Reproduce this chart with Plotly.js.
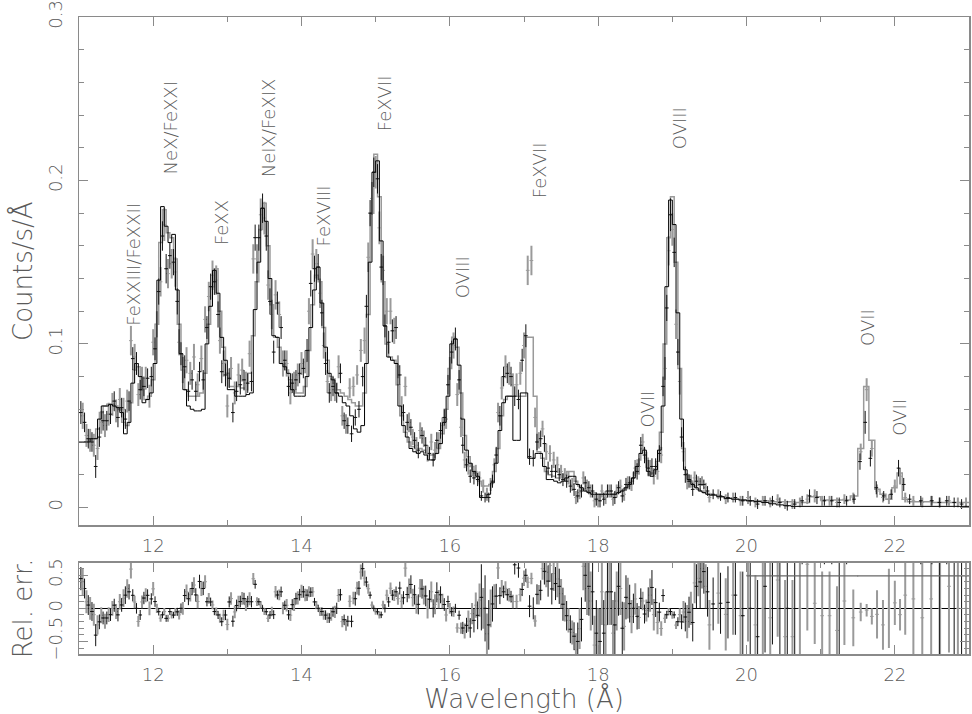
<!DOCTYPE html>
<html><head><meta charset="utf-8">
<script src="https://cdn.plot.ly/plotly-3.0.1.min.js"></script>
<style>html,body{margin:0;padding:0;background:#fff}#chart{width:972px;height:714px}</style>
</head><body><div id="chart"></div>
<script>
// ---- binning (0.05 Å core bins from 11.0 Å) ----
const binStart = 11.0, binWidth = 0.05, nCore = 170;

// ---- model A (black), core bins 11.00-19.50 ----
const modelA = [
0.040,0.040,0.040,0.042,0.042,0.054,0.062,0.062,0.063,0.062,0.061,0.058,0.045,0.052,0.076,0.088,0.080,0.064,0.066,0.070,
0.088,0.139,0.184,0.172,0.162,0.167,0.133,0.094,0.072,0.062,0.060,0.059,0.059,0.060,0.100,0.123,0.145,0.131,0.104,0.090,
0.072,0.072,0.068,0.068,0.068,0.069,0.070,0.121,0.150,0.183,0.175,0.140,0.105,0.104,0.088,0.086,0.082,0.072,0.068,0.068,
0.068,0.080,0.110,0.133,0.147,0.125,0.098,0.082,0.078,0.070,0.068,0.064,0.062,0.056,0.048,0.046,0.050,0.088,0.150,0.205,
0.212,0.163,0.111,0.092,0.090,0.088,0.062,0.050,0.043,0.036,0.034,0.033,0.034,0.032,0.029,0.029,0.033,0.039,0.052,0.068,
0.100,0.103,0.087,0.054,0.035,0.027,0.022,0.019,0.006,0.006,0.008,0.015,0.027,0.047,0.064,0.068,0.068,0.041,0.041,0.070,
0.070,0.030,0.030,0.033,0.033,0.025,0.017,0.017,0.016,0.015,0.016,0.018,0.019,0.019,0.014,0.012,0.010,0.009,0.008,0.008,
0.008,0.008,0.008,0.008,0.008,0.009,0.010,0.012,0.014,0.018,0.025,0.033,0.035,0.022,0.019,0.023,0.035,0.062,0.135,0.188,
0.173,0.119,0.054,0.023,0.017,0.014,0.012,0.010,0.009,0.008];
const tailEdgesA = [19.6,19.7,19.8,19.9,20.0,20.1,20.2,20.3,20.4,20.5,20.6,23.0];
const tailModelA = [0.0075,0.0065,0.0055,0.005,0.0045,0.004,0.0035,0.003,0.0022,0.0015,0.001,0.0006];

// ---- data A (black), core bin centres ----
const dataA = [
0.058,0.052,0.042,0.040,0.025,0.043,0.053,0.053,0.057,0.065,0.055,0.061,0.054,0.065,0.091,0.088,0.072,0.074,0.079,0.080,
0.097,0.132,0.166,0.146,0.154,0.150,0.126,0.094,0.086,0.071,0.078,0.071,0.083,0.078,0.110,0.135,0.138,0.118,0.083,0.081,
0.079,0.058,0.071,0.075,0.078,0.076,0.077,0.165,0.165,0.183,0.166,0.126,0.095,0.125,0.110,0.090,0.074,0.076,0.078,0.082,
0.085,0.096,0.137,0.146,0.147,0.119,0.088,0.070,0.074,0.070,0.082,0.053,0.050,0.045,0.055,0.060,0.080,0.123,0.180,0.205,
0.201,0.147,0.111,0.101,0.108,0.110,0.081,0.058,0.052,0.049,0.041,0.035,0.044,0.038,0.033,0.029,0.041,0.047,0.055,0.075,
0.095,0.103,0.078,0.038,0.026,0.019,0.018,0.017,0.007,0.006,0.006,0.016,0.032,0.056,0.080,0.082,0.080,0.068,0.066,0.090,
0.105,0.031,0.030,0.040,0.042,0.039,0.024,0.022,0.022,0.020,0.017,0.016,0.013,0.011,0.007,0.010,0.015,0.012,0.010,0.005,
0.004,0.005,0.010,0.010,0.006,0.012,0.007,0.014,0.015,0.018,0.022,0.038,0.032,0.024,0.025,0.025,0.033,0.074,0.122,0.179,
0.156,0.095,0.043,0.020,0.016,0.011,0.016,0.014,0.014,0.010];
const errA = [
0.007,0.006,0.006,0.006,0.007,0.006,0.006,0.006,0.006,0.006,0.006,0.006,0.006,0.006,0.007,0.007,0.006,0.006,0.006,0.006,
0.007,0.008,0.009,0.009,0.008,0.008,0.008,0.007,0.007,0.006,0.006,0.006,0.006,0.006,0.007,0.008,0.008,0.008,0.007,0.007,
0.006,0.006,0.006,0.006,0.006,0.006,0.006,0.008,0.008,0.009,0.009,0.008,0.007,0.007,0.007,0.006,0.006,0.006,0.006,0.006,
0.006,0.007,0.008,0.008,0.008,0.008,0.007,0.006,0.006,0.006,0.006,0.005,0.005,0.005,0.005,0.005,0.006,0.007,0.008,0.009,
0.009,0.008,0.007,0.007,0.007,0.007,0.006,0.005,0.005,0.005,0.005,0.005,0.005,0.005,0.004,0.004,0.005,0.005,0.005,0.006,
0.007,0.007,0.006,0.005,0.004,0.004,0.004,0.004,0.003,0.003,0.003,0.004,0.005,0.006,0.006,0.006,0.006,0.006,0.006,0.007,
0.007,0.005,0.005,0.005,0.005,0.005,0.004,0.004,0.004,0.004,0.004,0.004,0.004,0.004,0.004,0.004,0.004,0.004,0.004,0.004,
0.004,0.004,0.004,0.004,0.004,0.004,0.004,0.004,0.004,0.004,0.005,0.005,0.005,0.005,0.005,0.005,0.005,0.006,0.008,0.010,
0.009,0.008,0.006,0.005,0.004,0.004,0.004,0.004,0.003,0.003];
const tailXA = [19.55,19.65,19.75,19.85,19.95,20.05,20.15,20.25,20.35,20.45,20.55,20.65,20.75,20.85,20.95,21.05,21.15,21.25,21.35,21.45,21.53,21.60,21.67,21.75,21.85,21.95,22.05,22.12,22.2,22.35,22.5,22.6,22.7,22.8,22.9];
const tailDataA = [0.008,0.007,0.006,0.006,0.004,0.004,0.002,0.004,0.004,0.003,0.001,0.002,0.004,0.007,0.006,0.004,0.004,0.003,0.004,0.005,0.028,0.052,0.030,0.012,0.007,0.008,0.024,0.014,0.005,0.004,0.004,0.003,0.004,0.003,0.002];
const tailErrA = [0.003,0.003,0.003,0.003,0.003,0.003,0.003,0.003,0.003,0.003,0.003,0.003,0.003,0.004,0.004,0.003,0.003,0.003,0.003,0.003,0.005,0.007,0.005,0.004,0.003,0.003,0.005,0.004,0.003,0.003,0.003,0.003,0.003,0.003,0.003];

// ---- model B (grey), core bins offset by half a bin ----
const modelBFirst = 0.040;
const modelB = [
0.040,0.040,0.041,0.042,0.048,0.058,0.062,0.063,0.063,0.062,0.060,0.052,0.050,0.064,0.084,0.086,0.072,0.066,0.068,0.078,
0.112,0.162,0.182,0.168,0.165,0.152,0.112,0.084,0.072,0.068,0.068,0.068,0.070,0.082,0.112,0.135,0.146,0.120,0.098,0.082,
0.074,0.074,0.074,0.073,0.072,0.082,0.105,0.138,0.170,0.186,0.160,0.124,0.104,0.098,0.088,0.084,0.078,0.072,0.070,0.070,
0.074,0.096,0.124,0.142,0.138,0.110,0.090,0.080,0.076,0.072,0.070,0.068,0.066,0.064,0.062,0.062,0.070,0.118,0.180,0.216,
0.190,0.138,0.100,0.092,0.090,0.075,0.056,0.046,0.040,0.037,0.036,0.036,0.035,0.033,0.032,0.033,0.036,0.045,0.060,0.085,
0.104,0.098,0.070,0.044,0.031,0.025,0.021,0.016,0.013,0.013,0.014,0.022,0.036,0.056,0.066,0.068,0.068,0.068,0.068,0.068,
0.104,0.104,0.068,0.034,0.030,0.022,0.020,0.019,0.018,0.018,0.020,0.022,0.022,0.016,0.013,0.011,0.010,0.009,0.009,0.008,
0.008,0.008,0.008,0.008,0.009,0.010,0.011,0.013,0.016,0.021,0.029,0.036,0.030,0.020,0.021,0.028,0.046,0.100,0.165,0.190,
0.150,0.085,0.036,0.020,0.016,0.013,0.011,0.010,0.009,0.008];
const tailEdgesB = [19.6,19.7,19.8,19.9,20.0,20.3,20.65,20.85,21.0,21.4,21.5,21.58,21.65,21.73,21.8,21.88,21.96,22.03,22.1,22.17,22.5,23.0];
const tailModelB = [0.0075,0.0065,0.0055,0.005,0.0045,0.004,0.0035,0.003,0.0065,0.0045,0.007,0.036,0.074,0.041,0.011,0.008,0.005,0.012,0.021,0.005,0.0035,0.003];

// ---- data B (grey) ----
const dataB = [
0.056,0.044,0.041,0.038,0.036,0.052,0.050,0.057,0.063,0.059,0.066,0.060,0.065,0.102,0.092,0.069,0.079,0.079,0.068,0.101,
0.112,0.138,0.173,0.143,0.149,0.144,0.101,0.084,0.090,0.082,0.092,0.075,0.091,0.115,0.129,0.142,0.139,0.102,0.088,0.062,
0.085,0.070,0.081,0.084,0.076,0.094,0.152,0.152,0.179,0.177,0.136,0.118,0.130,0.118,0.088,0.088,0.070,0.076,0.081,0.088,
0.089,0.120,0.155,0.149,0.131,0.099,0.077,0.072,0.072,0.086,0.056,0.051,0.073,0.074,0.081,0.096,0.102,0.153,0.189,0.205,
0.171,0.145,0.120,0.120,0.108,0.086,0.062,0.074,0.052,0.043,0.038,0.047,0.042,0.033,0.040,0.035,0.041,0.050,0.054,0.085,
0.099,0.069,0.049,0.029,0.025,0.023,0.022,0.018,0.013,0.008,0.014,0.026,0.058,0.073,0.086,0.082,0.075,0.075,0.082,0.099,
0.145,0.151,0.055,0.041,0.048,0.034,0.033,0.029,0.026,0.022,0.020,0.018,0.014,0.006,0.009,0.018,0.013,0.010,0.004,0.004,
0.010,0.006,0.010,0.005,0.010,0.013,0.008,0.015,0.014,0.024,0.025,0.040,0.029,0.024,0.019,0.022,0.032,0.085,0.157,0.170,
0.112,0.077,0.034,0.016,0.016,0.018,0.016,0.016,0.012,0.006];
const errB = [
0.008,0.007,0.007,0.007,0.007,0.007,0.007,0.007,0.007,0.007,0.007,0.007,0.007,0.009,0.008,0.007,0.007,0.007,0.007,0.008,
0.008,0.009,0.010,0.009,0.009,0.009,0.008,0.008,0.008,0.007,0.008,0.007,0.008,0.008,0.009,0.009,0.009,0.008,0.008,0.007,
0.007,0.007,0.007,0.007,0.007,0.008,0.009,0.009,0.010,0.010,0.009,0.009,0.009,0.008,0.008,0.008,0.007,0.007,0.007,0.007,
0.007,0.008,0.009,0.009,0.009,0.008,0.007,0.007,0.007,0.007,0.006,0.006,0.006,0.006,0.006,0.007,0.008,0.009,0.010,0.010,
0.010,0.009,0.008,0.008,0.008,0.007,0.006,0.006,0.006,0.005,0.005,0.005,0.005,0.005,0.005,0.005,0.005,0.005,0.006,0.007,
0.008,0.007,0.006,0.005,0.005,0.004,0.004,0.004,0.004,0.004,0.004,0.004,0.006,0.007,0.007,0.007,0.007,0.007,0.007,0.008,
0.009,0.009,0.006,0.005,0.005,0.005,0.005,0.005,0.005,0.004,0.004,0.004,0.004,0.004,0.004,0.004,0.004,0.004,0.004,0.004,
0.004,0.004,0.004,0.004,0.004,0.004,0.004,0.004,0.004,0.005,0.005,0.005,0.005,0.005,0.005,0.005,0.005,0.007,0.009,0.010,
0.009,0.008,0.006,0.005,0.004,0.004,0.003,0.003,0.003,0.003];
const tailXB = [19.62,19.72,19.82,19.92,20.02,20.12,20.22,20.32,20.42,20.52,20.62,20.72,20.82,20.92,21.02,21.12,21.22,21.32,21.44,21.54,21.62,21.69,21.76,21.84,21.92,22.0,22.07,22.14,22.25,22.37,22.49,22.61,22.73,22.85,22.96];
const tailDataB = [0.008,0.005,0.006,0.004,0.006,0.003,0.004,0.003,0.005,0.002,0.002,0.003,0.005,0.007,0.004,0.004,0.003,0.005,0.006,0.034,0.072,0.036,0.010,0.006,0.005,0.013,0.019,0.006,0.004,0.003,0.004,0.003,0.004,0.003,0.003];
const tailErrB = [0.003,0.003,0.003,0.003,0.004,0.003,0.003,0.003,0.003,0.003,0.003,0.003,0.003,0.004,0.003,0.003,0.003,0.003,0.003,0.005,0.007,0.005,0.004,0.003,0.003,0.004,0.005,0.003,0.003,0.003,0.003,0.003,0.003,0.003,0.003];

// wide residual bin (20-23 Å)
const wideResX = [21.5], wideResY = [0.49], wideResHalf = [1.5];

// ---- line labels ----
const lineLabels = ["FeXXIII/FeXXII","NeX/FeXXI","FeXX","NeIX/FeXIX","FeXVIII","FeXVII","OVIII","FeXVII","OVII","OVIII","OVII","OVII"];
const labelX = [11.74,12.23,12.93,13.55,14.29,15.12,16.17,17.21,18.66,19.09,21.63,22.06];
const labelY = [0.149,0.232,0.174,0.232,0.178,0.247,0.141,0.206,0.060,0.232,0.110,0.055];

// ---- build ----
function grid(offset, n){ const a=[]; for(let i=0;i<n;i++) a.push(+(binStart+offset+binWidth*i).toFixed(3)); return a; }
const edgesA = grid(0, nCore+1).concat(tailEdgesA);
const valsA = modelA.concat(tailModelA);
const edgesB = [binStart].concat(grid(binWidth/2, nCore+1)).concat(tailEdgesB);
const valsB = [modelBFirst].concat(modelB).concat(tailModelB);
const xA = grid(binWidth/2, nCore).concat(tailXA), yA = dataA.concat(tailDataA), eA = errA.concat(tailErrA);
const xB = grid(binWidth, nCore).concat(tailXB), yB = dataB.concat(tailDataB), eB = errB.concat(tailErrB);

function lookup(edges, vals, x){ for(let i=0;i<vals.length;i++){ if(x>=edges[i]-1e-9 && x<edges[i+1]-1e-9) return vals[i]; } return vals[vals.length-1]; }
function resid(xs, ys, es, edges, vals){
  const r=[], er=[];
  xs.forEach((x,i)=>{ const m=lookup(edges, vals, x); r.push((ys[i]-m)/m); er.push(es[i]/m); });
  return {r, er};
}
const resA = resid(xA, yA, eA, edgesA, valsA);
const resB = resid(xB, yB, eB, edgesB, valsB);

const GREY = '#9a9a9a';
function stepTrace(edges, vals, color, width, xa, ya){
  return {x: edges, y: vals.concat([vals[vals.length-1]]), mode:'lines', line:{shape:'hv', color, width}, xaxis:xa, yaxis:ya, hoverinfo:'skip'};
}
function crossTrace(x, y, e, color, th, xa, ya){
  return {x, y, mode:'markers', marker:{size:1, color}, xaxis:xa, yaxis:ya,
    error_y:{type:'data', array:e, visible:true, width:0, thickness:th, color},
    error_x:{type:'constant', value:binWidth/2, visible:true, width:0, thickness:1, color}};
}

const traces = [
  stepTrace(edgesB, valsB, GREY, 1.5, 'x', 'y'),
  crossTrace(xB, yB, eB, GREY, 2, 'x', 'y'),
  stepTrace(edgesA, valsA, '#000', 1, 'x', 'y'),
  crossTrace(xA, yA, eA, '#111', 1, 'x', 'y'),
  crossTrace(xB, resB.r, resB.er, GREY, 2, 'x2', 'y2'),
  crossTrace(xA, resA.r, resA.er, '#111', 1, 'x2', 'y2'),
  {x: wideResX, y: wideResY, mode:'markers', marker:{size:1,color:'#666'}, xaxis:'x2', yaxis:'y2',
   error_x:{type:'data', array:wideResHalf, visible:true, width:0, thickness:1.2, color:'#666'}}
];

const TXT = '#5a5a5a', AX = '#8a8a8a';
const FONT = 'DejaVu Sans, Liberation Sans, sans-serif';
const W = 200;
const xcommon = {range:[11,23], tick0:0, dtick:2, ticks:'inside', ticklen:9, tickwidth:1, tickcolor:AX,
  minor:{dtick:1, ticks:'inside', ticklen:5, tickcolor:AX}, showline:true, linecolor:AX, linewidth:1.5, mirror:'ticks',
  showgrid:false, zeroline:false, tickfont:{family:FONT, size:18, color:TXT, weight:W}, ticklabelstandoff:4};
const layout = {
  width:972, height:714, margin:{l:79, r:3, t:17, b:60}, showlegend:false,
  paper_bgcolor:'#fff', plot_bgcolor:'#fff', font:{family:FONT, color:TXT, weight:W},
  xaxis: Object.assign({}, xcommon, {domain:[0,1], anchor:'y'}),
  xaxis2: Object.assign({}, xcommon, {domain:[0,1], anchor:'y2', matches:'x',
    title:{text:'Wavelength (Å)', font:{family:FONT, size:26, color:TXT, weight:W}, standoff:4}}),
  yaxis: {domain:[0.202,1], anchor:'x', range:[-0.011,0.3], tick0:0, dtick:0.1, tickangle:-90,
    ticks:'inside', ticklen:9, tickcolor:AX, minor:{dtick:0.02, ticks:'inside', ticklen:5, tickcolor:AX},
    showline:true, linecolor:AX, linewidth:1.5, mirror:'ticks', showgrid:false, zeroline:false,
    tickfont:{family:FONT, size:18, color:TXT, weight:W}, ticklabelstandoff:8, ticklabeloverflow:'allow',
    title:{text:'Counts/s/Å', font:{family:FONT, size:26, color:TXT, weight:W}, standoff:5}},
  yaxis2: {domain:[0,0.1433], anchor:'x2', range:[-0.69,0.69], tickvals:[-0.5,0,0.5], ticktext:['−0.5','0','0.5'], tickangle:-90,
    ticks:'inside', ticklen:9, tickcolor:AX, minor:{dtick:0.1, ticks:'inside', ticklen:5, tickcolor:AX},
    showline:true, linecolor:AX, linewidth:1.5, mirror:'ticks', showgrid:false,
    zeroline:true, zerolinecolor:'#000', zerolinewidth:1.5,
    tickfont:{family:FONT, size:18, color:TXT, weight:W}, ticklabelstandoff:8, ticklabeloverflow:'allow',
    title:{text:'Rel. err.', font:{family:FONT, size:26, color:TXT, weight:W}, standoff:5}},
  annotations: lineLabels.map((t,i)=>({text:t, x:labelX[i], y:labelY[i], xref:'x', yref:'y', showarrow:false,
    textangle:-90, font:{family:FONT, size:18, color:TXT, weight:W}}))
};
Plotly.newPlot('chart', traces, layout, {displayModeBar:false, staticPlot:true});
</script></body></html>
